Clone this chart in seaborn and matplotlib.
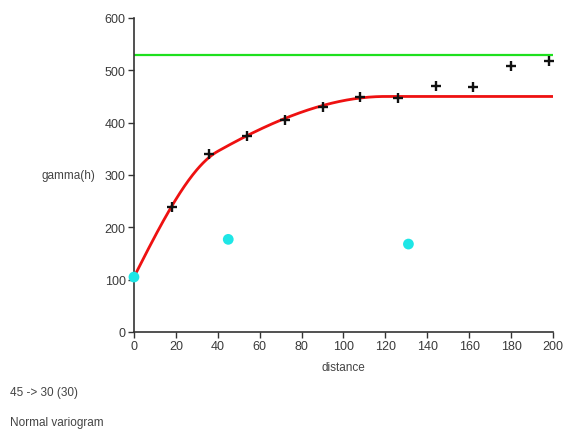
import numpy as np
import pandas as pd
import matplotlib
matplotlib.use("Agg")
import matplotlib.pyplot as plt
import seaborn as sns

# Experimental variogram (lag distance, semivariance)
lag_dist = [18, 36, 54, 72, 90, 108, 126, 144, 162, 180, 198]
lag_gamma = [239, 340, 375, 405, 430, 449, 447, 470, 468, 508, 518]

# Cyan reference points
ref_dist = [0, 45, 131]
ref_gamma = [105, 177, 168]

# Fitted nested spherical model
nugget = 105
sill_1, range_1 = 143, 40
sill_2, range_2 = 202, 120

# Sample variance
variance = 530

x_ticks = [0, 20, 40, 60, 80, 100, 120, 140, 160, 180, 200]
y_ticks = [0, 100, 200, 300, 400, 500, 600]


def spherical(h, a):
    r = np.clip(h / a, 0, 1)
    return 1.5 * r - 0.5 * r ** 3


h = np.linspace(0, 200, 401)
model = pd.DataFrame({
    "distance": h,
    "gamma": nugget + sill_1 * spherical(h, range_1) + sill_2 * spherical(h, range_2),
})
exp_df = pd.DataFrame({"distance": lag_dist, "gamma": lag_gamma})
ref_df = pd.DataFrame({"distance": ref_dist, "gamma": ref_gamma})

sns.set_theme(style="white")
plt.rcParams["font.family"] = ["Liberation Sans", "DejaVu Sans"]

fig = plt.figure(figsize=(5.66, 4.31), dpi=100)
ax = fig.add_axes([0.2367, 0.2274, 0.7403, 0.7286])

ax.axhline(variance, color="#1ee01e", lw=1.6, zorder=2)
sns.lineplot(data=model, x="distance", y="gamma", color="#ee1111", lw=2.0,
             ax=ax, zorder=3)
sns.scatterplot(data=exp_df, x="distance", y="gamma", marker="+", s=55,
                color="#111111", linewidth=1.7, ax=ax, zorder=4)
sns.scatterplot(data=ref_df, x="distance", y="gamma", marker="o", s=60,
                color="#1ee6e6", edgecolor="none", ax=ax, zorder=5,
                clip_on=False)

ax.set_xlim(0, 200)
ax.set_ylim(0, 600)
ax.set_xticks(x_ticks)
ax.set_yticks(y_ticks)
ax.set_xlabel("distance", fontsize=8.5, color="#444444", labelpad=6)
ax.set_ylabel("")
ax.text(-0.093, 0.5, "gamma(h)", transform=ax.transAxes, ha="right",
        va="center", fontsize=8.5, color="#444444")

for side in ("top", "right"):
    ax.spines[side].set_visible(False)
for side in ("left", "bottom"):
    ax.spines[side].set_color("#333333")
    ax.spines[side].set_linewidth(1.2)
ax.tick_params(axis="both", which="major", direction="out", length=4,
               width=1.0, color="#333333", labelsize=9, labelcolor="#3a3a3a",
               bottom=True, left=True, pad=2)

fig.text(10 / 566, 1 - 393 / 431, "45 -> 30 (30)", fontsize=8.5,
         color="#444444", va="center", ha="left")
fig.text(10 / 566, 1 - 423 / 431, "Normal variogram", fontsize=8.5,
         color="#444444", va="center", ha="left")

fig.savefig("out.png", dpi=100, facecolor="white")
